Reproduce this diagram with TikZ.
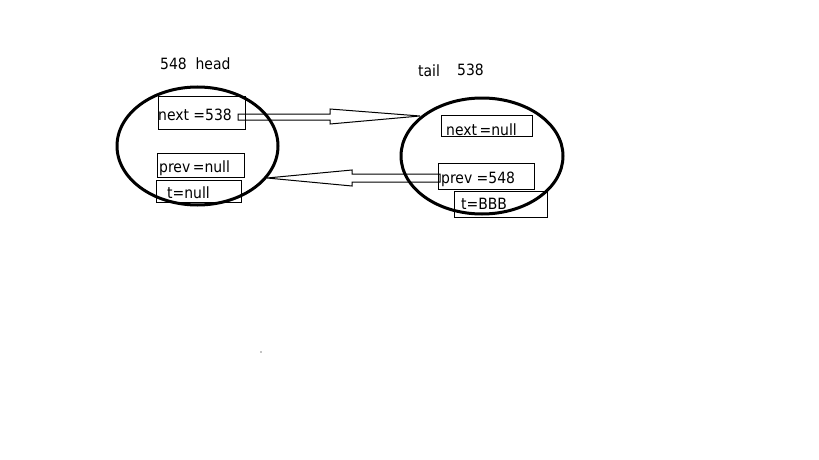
\documentclass[tikz,border=0pt]{standalone}
\usepackage{fontspec}
\setmainfont{DejaVu Sans Condensed}
\begin{document}
\begin{tikzpicture}[x=1pt,y=-1pt,
  txt/.style={inner sep=0pt,anchor=base west,font=\fontsize{15.5}{18}\selectfont},
  box/.style={draw=black,line width=1pt,inner sep=0pt},
  barrow/.style={draw=black,line width=1pt,line join=miter}]
\useasboundingbox[fill=white] (0,0) rectangle (819,460);
% ellipses
\draw[line width=3pt] (197.5,146) ellipse [x radius=80.5, y radius=59];
\draw[line width=3pt] (482,156) ellipse [x radius=81, y radius=58];
% boxes left
\node[box,minimum width=87,minimum height=33] (n1) at (201.5,112.5) {};
\node[box,minimum width=87,minimum height=24] (p1) at (200.5,165) {};
\node[box,minimum width=85,minimum height=22] (t1) at (198.5,191) {};
% boxes right
\node[box,minimum width=91,minimum height=21] (n2) at (486.5,125.5) {};
\node[box,minimum width=96,minimum height=26] (p2) at (486,176) {};
\node[box,minimum width=93,minimum height=26] (t2) at (500.5,204) {};
% block arrows
\coordinate (a1t) at (420,116);
\draw[barrow] (238,114) -- (330,114) -- (330,109) -- (a1t) -- (330,124) -- (330,120) -- (238,120) -- cycle;
\coordinate (a2t) at (267,178);
\draw[barrow] (a2t) -- (352,170) -- (352,174) -- (440,174) -- (440,182) -- (352,182) -- (352,186) -- cycle;
% texts
\node[txt] (h) at (160,70) {548\ \ head};
\node[txt] (tl) at (418,77) {tail};
\node[txt] (tn) at (457,75) {538};
\node[txt] at (158,120) {next =538};
\node[txt] at (159,172) {prev\,=null};
\node[txt] at (167,198) {t=null};
\node[txt] at (446,135) {next\,=null};
\node[txt] at (441,183) {prev =548};
\node[txt] at (461,209) {t=BBB};
% stray dot
\fill[black] (261,352) circle (0.6);
\end{tikzpicture}
\end{document}
